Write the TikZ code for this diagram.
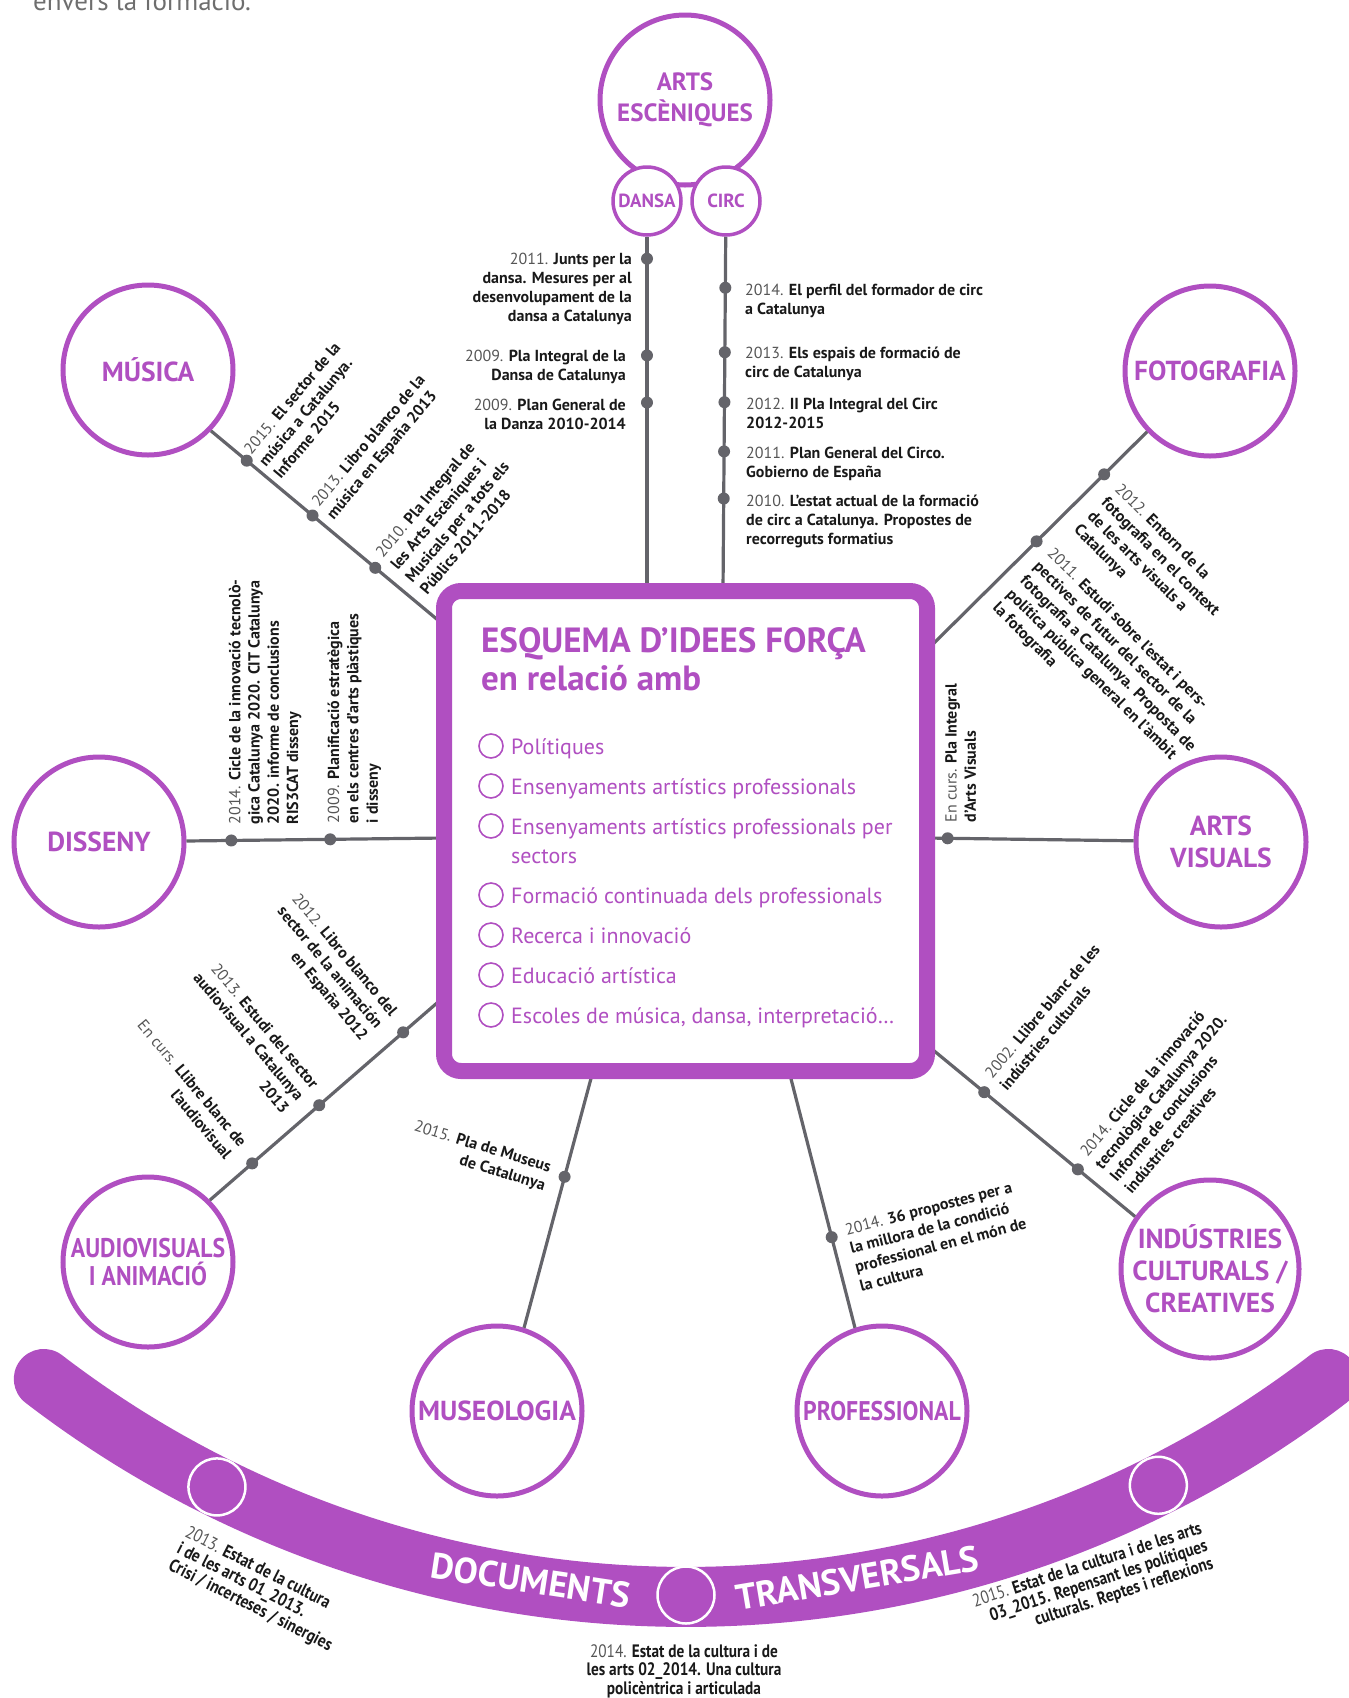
\documentclass[tikz,border=0pt]{standalone}
\usepackage{fontspec}
\setmainfont{PT Sans}
\newfontfamily\condfont{PT Sans}[FakeStretch=0.85]
\newfontfamily\labcond{PT Sans}[FakeStretch=0.88]
\usetikzlibrary{calc}
\definecolor{pur}{RGB}{176,79,193}
\definecolor{lgray}{RGB}{100,100,106}
\definecolor{ygray}{RGB}{85,85,85}
\definecolor{txt}{RGB}{25,25,25}
\definecolor{hgray}{RGB}{110,110,110}
\newcommand\yr[1]{{\mdseries\color{ygray}#1}}
\newcommand\Ltab[1]{\begin{tabular}[t]{@{}l@{}}#1\end{tabular}}
\newcommand\Rtab[1]{\begin{tabular}[t]{@{}r@{}}#1\end{tabular}}
\newcommand\Ctab[1]{\begin{tabular}[t]{@{}c@{}}#1\end{tabular}}
\tikzset{
  bigc/.style={circle, draw=pur, line width=5pt, fill=white, minimum size=170pt, inner sep=0pt, align=center, text=pur, font=\fontsize{27.5}{32}\selectfont\bfseries},
  smallc/.style={circle, draw=pur, line width=3.5pt, fill=white, minimum size=68pt, inner sep=0pt, text=pur, font=\fontsize{19}{20}\selectfont\bfseries},
  conn/.style={draw=lgray, line width=3.2pt},
  gdot/.style={circle, fill=lgray, minimum size=12pt, inner sep=0pt},
  ann/.style={inner sep=0pt, text=txt, font=\fontsize{16}{19.3}\selectfont\bfseries},
  bann/.style={inner sep=0pt, text=txt, font=\condfont\fontsize{18}{18.5}\selectfont\bfseries},
  itemtxt/.style={anchor=base west, inner sep=0pt, text=pur, font=\fontsize{22}{29}\selectfont},
  itemc/.style={circle, draw=pur, line width=1.6pt, minimum size=24pt, inner sep=0pt},
  bandc/.style={circle, draw=white, line width=2.5pt, fill=pur, minimum size=57pt, inner sep=0pt},
  bandtxt/.style={inner sep=0pt, text=white, font=\fontsize{36}{40}\selectfont\bfseries},
}
\begin{document}
\begin{tikzpicture}[x=1pt,y=1pt]
\useasboundingbox (0,0) rectangle (1349,-1698);

% header fragment
\node[anchor=base west, inner sep=0pt, text=hgray, font=\fontsize{27}{30}\selectfont] (hdr) at (33,-10) {envers la formació.};

% bottom band
\draw[pur, line width=60pt, line cap=round] ([shift={(232.5:1055)}]686,-542) arc[start angle=232.5, end angle=307.5, radius=1055];
\node[bandc] (bc1) at ([shift={(243.6:1055)}]686,-542) {};
\node[bandc] (bc2) at ([shift={(270:1053)}]686,-542) {};
\node[bandc] (bc3) at ([shift={(296.6:1055)}]686,-542) {};
\node[bandtxt, rotate=-8.6] (docs) at ([shift={(261.5:1050)}]686,-542) {DOCUMENTS};
\node[bandtxt, rotate=9.5] (transv) at ([shift={(279.4:1050)}]686,-542) {TRANSVERSALS};

% circles
\node[bigc, font=\fontsize{25}{31.5}\selectfont\bfseries] (arts) at (685,-100) {ARTS\\ESCÈNIQUES};
\node[smallc] (dansa) at (647,-201) {DANSA};
\node[smallc] (circ) at (726,-201) {CIRC};
\node[bigc] (musica) at (148,-370) {MÚSICA};
\node[bigc] (foto) at (1210,-371) {FOTOGRAFIA};
\node[bigc] (disseny) at (99,-842) {DISSENY};
\node[bigc] (artsvis) at (1221,-842) {ARTS\\VISUALS};
\node[bigc, font=\labcond\fontsize{27}{28}\selectfont\bfseries] (audio) at (148,-1262) {AUDIOVISUALS\\I ANIMACIÓ};
\node[bigc] (indus) at (1210,-1269) {INDÚSTRIES\\CULTURALS /\\CREATIVES};
\node[bigc] (museo) at (497,-1411) {MUSEOLOGIA};
\node[bigc, font=\labcond\fontsize{27}{28}\selectfont\bfseries] (profe) at (882,-1411) {PROFESSIONAL};

% connector end points (under the box border)
\coordinate (cDansa) at (647,-591);
\coordinate (cCirc) at (723,-591);
\coordinate (cMusica) at (445,-626);
\coordinate (cFoto) at (927,-650);
\coordinate (cDis) at (444,-838);
\coordinate (cAV) at (927,-838);
\coordinate (cAud) at (445,-996);
\coordinate (cInd) at (927,-1045);
\coordinate (cMus) at (593,-1071);
\coordinate (cPro) at (789,-1071);

% connectors with dots
\draw[conn] (dansa) -- (cDansa)
  node[gdot, pos=0.062] (d1) {}
  node[gdot, pos=0.335] (d2) {}
  node[gdot, pos=0.468] (d3) {};
\draw[conn] (circ) -- (cCirc)
  node[gdot, pos=0.144] (c1) {}
  node[gdot, pos=0.326] (c2) {}
  node[gdot, pos=0.467] (c3) {}
  node[gdot, pos=0.606] (c4) {}
  node[gdot, pos=0.739] (c5) {};
\draw[conn] (musica.-44.6) -- (cMusica)
  node[gdot, pos=0.153] (m1) {}
  node[gdot, pos=0.434] (m2) {}
  node[gdot, pos=0.702] (m3) {};
\draw[conn] (foto.224.5) -- (cFoto)
  node[gdot, pos=0.195] (f1) {}
  node[gdot, pos=0.502] (f2) {};
\draw[conn] (disseny) -- (cDis)
  node[gdot, pos=0.174] (ds1) {}
  node[gdot, pos=0.558] (ds2) {};
\draw[conn] (cAV) -- (artsvis)
  node[gdot, pos=0.10] (av1) {};
\draw[conn] (audio.45) -- (cAud)
  node[gdot, pos=0.18] (a1) {}
  node[gdot, pos=0.465] (a2) {}
  node[gdot, pos=0.822] (a3) {};
\draw[conn] (indus.145.7) -- (cInd)
  node[gdot, pos=0.275] (i2) {}
  node[gdot, pos=0.725] (i1) {};
\draw[conn] (museo.72.4) -- (cMus)
  node[gdot, pos=0.588] (ms1) {};
\draw[conn] (profe.108.8) -- (cPro)
  node[gdot, pos=0.353] (p1) {};

% central box
\node[draw=pur, line width=16pt, rounded corners=17pt, fill=white, minimum width=483pt, minimum height=480pt, inner sep=0pt] (box) at (685.5,-831) {};
\node[anchor=base west, inner sep=0pt, text=pur, font=\fontsize{35}{38}\selectfont\bfseries] (title) at (481,-652) {\Ltab{ESQUEMA D’IDEES FORÇA\\en relació amb}};
\node[itemc] (ic1) at (491,-746) {};
\node[itemc] (ic2) at (491,-786) {};
\node[itemc] (ic3) at (491,-826) {};
\node[itemc] (ic4) at (491,-895) {};
\node[itemc] (ic5) at (491,-935) {};
\node[itemc] (ic6) at (491,-975) {};
\node[itemc] (ic7) at (491,-1015) {};
\node[itemtxt] (it1) at (511,-754) {Polítiques};
\node[itemtxt] (it2) at (511,-794) {Ensenyaments artístics professionals};
\node[itemtxt] (it3) at (511,-834) {\Ltab{Ensenyaments artístics professionals per\\sectors}};
\node[itemtxt] (it4) at (511,-903) {Formació continuada dels professionals};
\node[itemtxt] (it5) at (511,-943) {Recerca i innovació};
\node[itemtxt] (it6) at (511,-983) {Educació artística};
\node[itemtxt] (it7) at (511,-1023) {Escoles de música, dansa, interpretació…};

% DANSA texts
\node[ann, anchor=base east] (td1) at (632,-264) {\Rtab{\yr{2011.} Junts per la\\dansa. Mesures per al\\desenvolupament de la\\dansa a Catalunya}};
\node[ann, anchor=base east] (td2) at (626,-361) {\Rtab{\yr{2009.} Pla Integral de la\\Dansa de Catalunya}};
\node[ann, anchor=base east] (td3) at (626,-410) {\Rtab{\yr{2009.} Plan General de\\la Danza 2010-2014}};

% CIRC texts
\node[ann, anchor=base west] (tc1) at (745,-295) {\Ltab{\yr{2014.} El perfil del formador de circ\\a Catalunya}};
\node[ann, anchor=base west] (tc2) at (745,-358) {\Ltab{\yr{2013.} Els espais de formació de\\circ de Catalunya}};
\node[ann, anchor=base west] (tc3) at (746,-409) {\Ltab{\yr{2012.} II Pla Integral del Circ\\2012-2015}};
\node[ann, anchor=base west] (tc4) at (746,-458) {\Ltab{\yr{2011.} Plan General del Circo.\\Gobierno de España}};
\node[ann, anchor=base west] (tc5) at (746,-506) {\Ltab{\yr{2010.} L’estat actual de la formació\\de circ a Catalunya. Propostes de\\recorreguts formatius}};

% MUSICA texts
\node[ann, rotate=50, anchor=base west] (tm1) at ($(m1)+(50:7)$) {\Ltab{\yr{2015.} El sector de la\\música a Catalunya.\\Informe 2015}};
\node[ann, rotate=50, anchor=base west] (tm2) at ($(m2)+(50:10)$) {\Ltab{\yr{2013.} Libro blanco de la\\música en España 2013}};
\node[ann, rotate=50, anchor=base west] (tm3) at ($(m3)+(50:12)$) {\Ltab{\yr{2010.} Pla Integral de\\les Arts Escèniques i\\Musicals per a tots els\\Públics 2011-2018}};

% FOTOGRAFIA texts
\node[ann, rotate=-45, anchor=base west] (tf1) at ($(f1)+(-45:18)+(225:4)$) {\Ltab{\yr{2012.} Entorn de la\\fotografia en el context\\de les arts visuals a\\Catalunya}};
\node[ann, rotate=-45, anchor=base west] (tf2) at ($(f2)+(-45:16)+(225:2)$) {\Ltab{\yr{2011.} Estudi sobre l’estat i pers-\\pectives de futur del sector de la\\fotografia a Catalunya. Proposta de\\política pública general en l’àmbit\\la fotografia}};

% DISSENY texts
\node[ann, rotate=90, anchor=base west] (tds1) at ($(ds1)+(9,16)$) {\Ltab{\yr{2014.} Cicle de la innovació tecnolò-\\gica Catalunya 2020. CIT Catalunya\\2020. informe de conclusions\\RIS3CAT disseny}};
\node[ann, rotate=90, anchor=base west] (tds2) at ($(ds2)+(9,16)$) {\Ltab{\yr{2009.} Planificació estratègica\\en els centres d’arts plàstiques\\i disseny}};

% ARTS VISUALS text
\node[ann, rotate=90, anchor=base west] (tav) at ($(av1)+(9,16)$) {\Ltab{\yr{En curs.} Pla Integral\\d’Arts Visuals}};

% AUDIOVISUALS texts
\node[ann, rotate=-50, anchor=base east] (ta3) at ($(a3)+(130:20)$) {\Rtab{\yr{2012.} Libro blanco del\\sector de la animación\\en España 2012}};
\node[ann, rotate=-50, anchor=base east] (ta2) at ($(a2)+(130:17)+(40:4)$) {\Rtab{\yr{2013.} Estudi del sector\\audiovisual a Catalunya\\2013}};
\node[ann, rotate=-50, anchor=base east] (ta1) at ($(a1)+(130:20)$) {\Rtab{\yr{En curs.} Llibre blanc de\\l’audiovisual}};

% INDUSTRIES texts
\node[ann, rotate=50, anchor=base west] (ti1) at ($(i1)+(50:15)+(140:2)$) {\Ltab{\yr{2002.} Llibre blanc de les\\indústries culturals}};
\node[ann, rotate=50, anchor=base west] (ti2) at ($(i2)+(50:15)$) {\Ltab{\yr{2014.} Cicle de la innovació\\tecnològica Catalunya 2020.\\Informe de conclusions\\indústries creatives}};

% MUSEOLOGIA text
\node[ann, rotate=-17, anchor=base east] (tms) at ($(ms1)+(163:16)$) {\Rtab{\yr{2015.} Pla de Museus\\de Catalunya}};

% PROFESSIONAL text
\node[ann, rotate=14.5, anchor=base west] (tp) at ($(p1)+(14.5:15)+(-75.5:2)$) {\Ltab{\yr{2014.} 36 propostes per a\\la millora de la condició\\professional en el món de\\la cultura}};

% bottom documents
\node[bann, rotate=-27, anchor=base west] (tb1) at (184,-1536) {\Ltab{\yr{2013.} Estat de la cultura\\i de les arts 01\_2013.\\Crisi / incerteses / sinergies}};
\node[bann, anchor=base] (tb2) at (684,-1657) {\Ctab{\yr{2014.} Estat de la cultura i de\\les arts 02\_2014. Una cultura\\policèntrica i articulada}};
\node[bann, rotate=18, anchor=base east] (tb3) at (1203,-1533) {\Rtab{\yr{2015.} Estat de la cultura i de les arts\\03\_2015. Repensant les polítiques\\culturals. Reptes i reflexions}};
\end{tikzpicture}
\end{document}
